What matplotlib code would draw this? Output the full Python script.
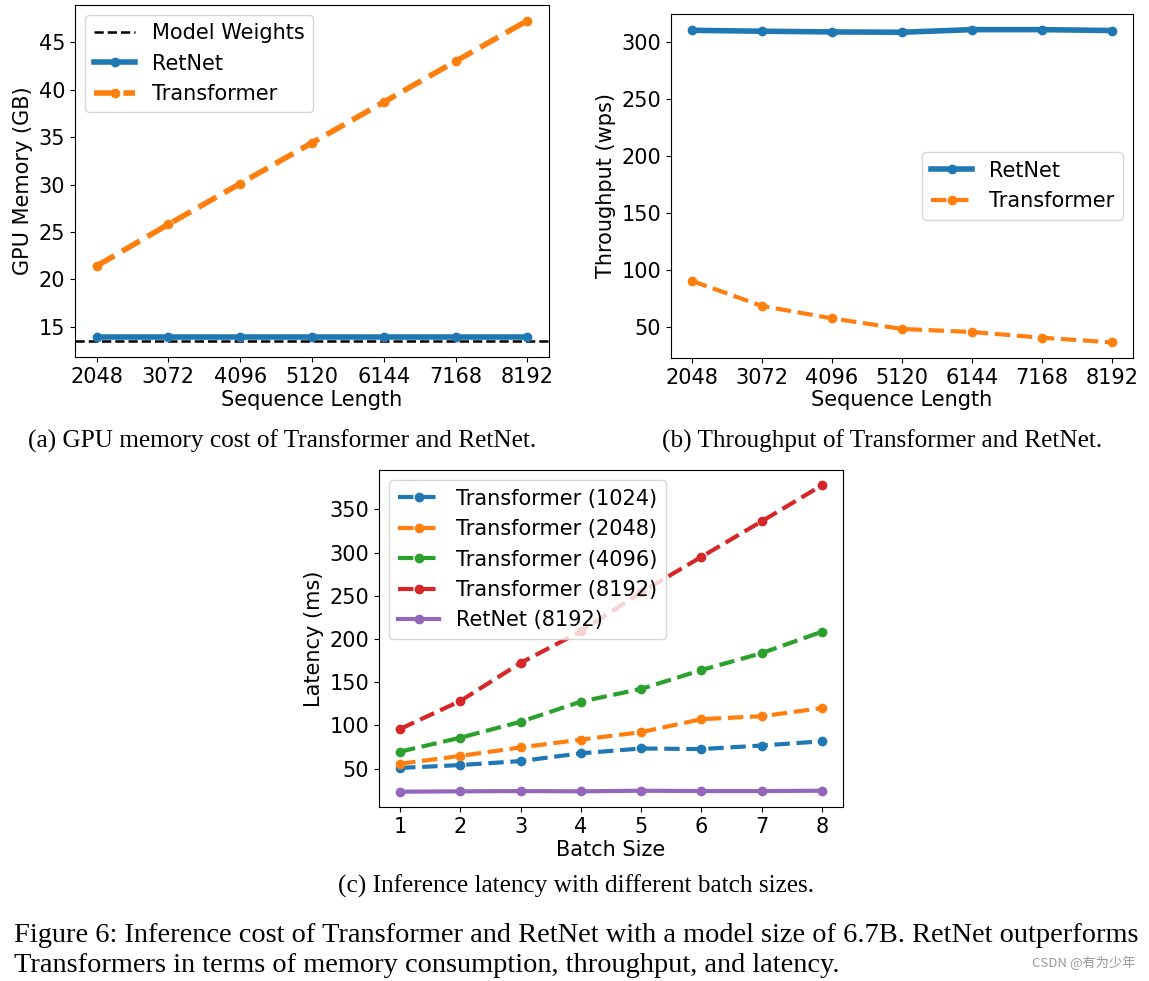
import matplotlib
matplotlib.use("Agg")
import matplotlib.pyplot as plt

# data
seq_len = [2048, 3072, 4096, 5120, 6144, 7168, 8192]
model_weights = 13.5
mem_retnet = [13.9, 13.9, 13.9, 13.9, 13.9, 13.9, 13.9]
mem_transformer = [21.4, 25.8, 30.1, 34.4, 38.7, 43.0, 47.3]

tput_retnet = [310.5, 309.7, 309.1, 308.8, 311.1, 311.1, 310.3]
tput_transformer = [90.2, 68.2, 57.3, 48.0, 45.3, 40.3, 36.2]

batch_size = [1, 2, 3, 4, 5, 6, 7, 8]
lat_tf_1024 = [50.8, 54.1, 58.7, 67.7, 73.3, 72.6, 76.7, 81.6]
lat_tf_2048 = [55.6, 64.7, 74.5, 83.5, 92.2, 107.2, 110.6, 120.0]
lat_tf_4096 = [69.6, 85.8, 104.2, 127.5, 142.2, 164.0, 183.6, 208.4]
lat_tf_8192 = [95.9, 128.3, 172.3, 208.8, 254.0, 295.0, 336.1, 377.8]
lat_retnet_8192 = [23.3, 23.7, 24.0, 23.7, 24.4, 24.0, 24.0, 24.4]

W, H = 1149, 981
FS = 15

plt.rcParams['font.size'] = FS
fig = plt.figure(figsize=(W / 100, H / 100), dpi=100)


def box(x0, y0, x1, y1):
    # pixel box -> figure fraction
    return [x0 / W, 1 - y1 / H, (x1 - x0) / W, (y1 - y0) / H]


# (a) GPU memory
ax1 = fig.add_axes(box(75, 4.5, 549, 357))
ax1.axhline(model_weights, color='black', ls='--', lw=1.8, label='Model Weights')
ax1.plot(seq_len, mem_retnet, color='C0', marker='o', lw=4, ms=6, label='RetNet')
ax1.plot(seq_len, mem_transformer, color='C1', marker='o', ls='--', lw=4, ms=6, label='Transformer')
ax1.set_xticks(seq_len)
ax1.set_xlabel('Sequence Length', labelpad=2)
ax1.set_ylabel('GPU Memory (GB)')
ax1.legend(loc='upper left')

# (b) throughput
ax2 = fig.add_axes(box(671, 14, 1133, 358))
ax2.plot(seq_len, tput_retnet, color='C0', marker='o', lw=4, ms=6, label='RetNet')
ax2.plot(seq_len, tput_transformer, color='C1', marker='o', ls='--', lw=3, ms=6, label='Transformer')
ax2.set_xticks(seq_len)
ax2.set_xlabel('Sequence Length', labelpad=2)
ax2.set_ylabel('Throughput (wps)')
ax2.legend(loc='center right')

# (c) latency
ax3 = fig.add_axes(box(379, 470, 843, 807))
ax3.plot(batch_size, lat_tf_1024, color='C0', marker='o', ls='--', lw=3, ms=6, label='Transformer (1024)')
ax3.plot(batch_size, lat_tf_2048, color='C1', marker='o', ls='--', lw=3, ms=6, label='Transformer (2048)')
ax3.plot(batch_size, lat_tf_4096, color='C2', marker='o', ls='--', lw=3, ms=6, label='Transformer (4096)')
ax3.plot(batch_size, lat_tf_8192, color='C3', marker='o', ls='--', lw=3, ms=6, label='Transformer (8192)')
ax3.plot(batch_size, lat_retnet_8192, color='C4', marker='o', lw=3, ms=6, label='RetNet (8192)')
ax3.set_xticks(batch_size)
ax3.set_xlabel('Batch Size', labelpad=2)
ax3.set_ylabel('Latency (ms)')
ax3.legend(loc='upper left')

# captions
serif = 'Liberation Serif'
fig.text(282 / W, 1 - 441 / H, '(a) GPU memory cost of Transformer and RetNet.',
         family=serif, fontsize=18.2, ha='center', va='center')
fig.text(882 / W, 1 - 441 / H, '(b) Throughput of Transformer and RetNet.',
         family=serif, fontsize=18.2, ha='center', va='center')
fig.text(576 / W, 1 - 886 / H, '(c) Inference latency with different batch sizes.',
         family=serif, fontsize=18.2, ha='center', va='center')
fig.text(14 / W, 1 - 936 / H,
         'Figure 6: Inference cost of Transformer and RetNet with a model size of 6.7B. RetNet outperforms',
         family=serif, fontsize=20.4, ha='left', va='center')
fig.text(14 / W, 1 - 966 / H,
         'Transformers in terms of memory consumption, throughput, and latency.',
         family=serif, fontsize=20.4, ha='left', va='center')
fig.text(1135 / W, 1 - 963 / H, 'CSDN @有为少年', color='#999999', fontsize=9.5,
         family=['Noto Sans CJK SC', 'DejaVu Sans'], ha='right', va='center')

fig.savefig('out.png', dpi=100)
